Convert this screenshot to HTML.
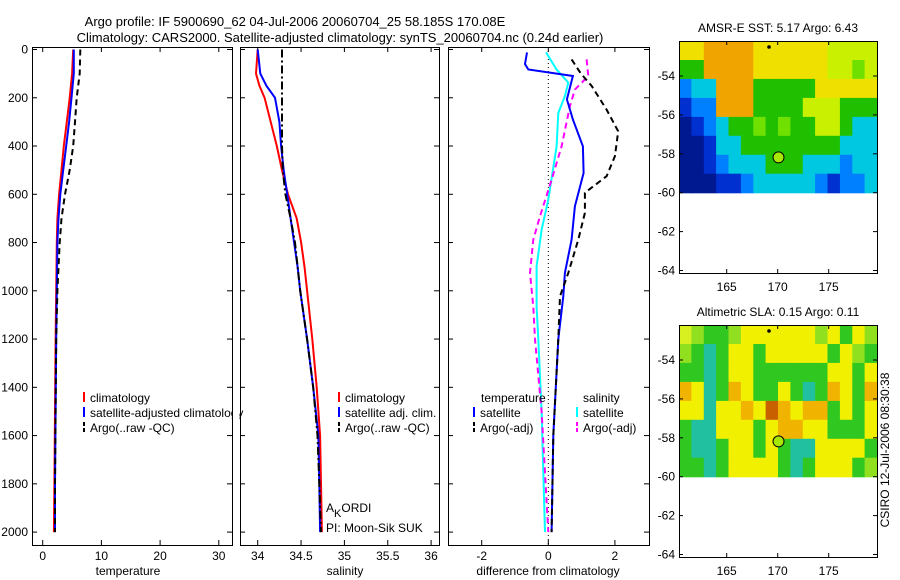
<!DOCTYPE html>
<html><head><meta charset="utf-8"><style>
body{margin:0;background:#fff}
svg{display:block;font-family:"Liberation Sans",sans-serif;font-size:12px}
</style></head><body>
<svg id="fig" width="900" height="580" xmlns="http://www.w3.org/2000/svg">
<text x="295" y="26" text-anchor="middle" font-size="13">Argo profile: IF 5900690_62 04-Jul-2006 20060704_25 58.185S 170.08E</text>
<text x="340" y="42" text-anchor="middle" font-size="13">Climatology: CARS2000. Satellite-adjusted climatology: synTS_20060704.nc (0.24d earlier)</text>
<g id="g"></g>
</svg>
<script>
// ---- data ----
const depthTicks=[0,200,400,600,800,1000,1200,1400,1600,1800,2000];
const tempTicks=[0,10,20,30];
const salTicks=[34,34.5,35,35.5,36];
const salTickLabels=["34","34.5","35","35.5","36"];
const diffTicks=[-2,0,2];
const lonTicks=[165,170,175];
const latTicks=[-54,-56,-58,-60,-62,-64];

const tDepth=[0,100,200,300,400,500,600,700,800,1000,1200,1500,1800,2000];
const tClim=[5.2,5.0,4.6,4.1,3.6,3.2,2.8,2.5,2.4,2.3,2.2,2.1,2.0,1.9];
const tSat=[5.3,5.3,4.9,4.5,4.0,3.5,3.0,2.7,2.5,2.4,2.3,2.2,2.1,2.1];
const tArgo=[6.4,6.3,5.8,5.5,5.2,4.6,3.8,3.2,2.9,2.5,2.3,2.2,2.1,2.1];

const sDepth=[0,100,150,200,300,400,500,600,700,800,900,1000,1200,1400,1600,1800,2000];
const sClim=[34.0,33.98,34.02,34.08,34.15,34.22,34.28,34.35,34.45,34.50,34.54,34.57,34.63,34.68,34.72,34.73,34.74];
const sSat=[34.0,34.03,34.10,34.20,34.25,34.27,34.30,34.34,34.38,34.42,34.46,34.49,34.57,34.64,34.70,34.71,34.72];
const sArgo=[34.28,34.28,34.28,34.28,34.28,34.28,34.29,34.32,34.38,34.43,34.46,34.49,34.57,34.64,34.69,34.71,34.73];

const dDepthT=[12,60,83,110,207,290,401,512,650,788,926,1023,1200,1600,2000];
const dTempSat=[-0.64,-0.7,-0.6,0.74,0.56,0.74,1.04,1.06,0.8,0.7,0.5,0.45,0.3,0.15,0.1];
const dDepthS=[12,83,137,193,263,401,622,747,899,1066,1200,1500,2000];
const dSalSat=[-0.07,0.25,0.6,0.5,0.3,0.25,0,-0.2,-0.35,-0.35,-0.3,-0.2,-0.1];
const dDepthTA=[41,100,151,249,339,442,525,594,677,788,926,1023,1200,1600,2000];
const dTempArgo=[0.7,0.98,1.3,1.75,2.1,2.0,1.75,1.1,1.1,0.9,0.6,0.35,0.3,0.15,0.1];
const dDepthSA=[41,110,166,235,401,540,691,788,926,1066,1200,1500,2000];
const dSalArgo=[1.15,1.2,0.8,0.65,0.4,0.1,-0.25,-0.45,-0.55,-0.45,-0.4,-0.2,0];

const sstGrid=["YYOOOOYYYYYYLLLL","GGOOOOYYYYYYLLgL","BCCOOOGGGGGYYYYY","DBBOOOGGGGLLLGGG","NDBCGGgGgGGLLGCC","NNDCCGGGGGGGGCCC","NNDBCCCGGGCCCBCC","NNNDDBCCCCCBDBBC"];
const slaGrid=["ygGGgYYYYYYgYGYg","gGTGYYGYYYYYGYgG","GGTGYYGGGGGGYYGY","OYTGOYGGYGTGOYGO","YYTYYOYROYOOGYGY","GTTYYYGYOOYYGGGY","GTTGYYGYGTTYYYYG","GGTGYYYYGTGYYYGg"];
const floatLon=[170.08];
const floatLat=[-58.185];
const mapTitles=["AMSR-E SST: 5.17 Argo: 6.43","Altimetric SLA: 0.15 Argo: 0.11"];

// ---- helpers ----
const NS="http://www.w3.org/2000/svg";
const G=document.getElementById('g');
function mk(tag,at,parent){const e=document.createElementNS(NS,tag);for(const k in at)e.setAttribute(k,at[k]);(parent||G).appendChild(e);return e;}
const Y=d=>49.5+d*0.2413;
const PT=[32,232],PS=[240,439],PD=[448,649];
const xT=v=>42.7+v*5.87, xS=v=>257.7+(v-34)*86.7, xD=v=>548.3+v*33.3;
const TOP=47,BOT=545;

function frame(x0,x1,name){
  const r=mk('rect',{x:x0+.5,y:TOP+.5,width:x1-x0,height:BOT-TOP,fill:'none',stroke:'#000'});
  
  depthTicks.forEach(d=>{const y=Y(d);
    mk('line',{x1:x0,x2:x0+5,y1:y,y2:y,stroke:'#000'});mk('line',{x1:x1-5,x2:x1,y1:y,y2:y,stroke:'#000'});});
}
function xticks(vals,labels,fx,name,title,cx){
  vals.forEach((v,i)=>{const x=fx(v);
    mk('line',{x1:x,x2:x,y1:BOT,y2:BOT-5,stroke:'#000'});mk('line',{x1:x,x2:x,y1:TOP,y2:TOP+5,stroke:'#000'});
    const t=mk('text',{x:x,y:560,'text-anchor':'middle'});t.textContent=labels[i];
    });
  const t=mk('text',{x:cx,y:575,'text-anchor':'middle'});t.textContent=title;
  
}
function line(xs,ds,fx,color,dash,name,w){
  const p=xs.map((v,i)=>(i?'L':'M')+fx(v).toFixed(1)+','+Y(ds[i]).toFixed(1)).join('');
  const e=mk('path',{d:p,fill:'none',stroke:color,'stroke-width':w||2,'stroke-dasharray':dash||'none'});
  
}
function legend(x,y,color,dash,label,name){
  mk('line',{x1:x,x2:x,y1:y-10,y2:y,stroke:color,'stroke-width':2,'stroke-dasharray':dash||'none'});
  const t=mk('text',{x:x+6,y:y});t.textContent=label;
  
}

// panel 1
frame(PT[0],PT[1],'temperature-panel');
depthTicks.forEach(d=>{const t=mk('text',{x:28,y:Y(d)+4,'text-anchor':'end'});t.textContent=d;
  });
xticks(tempTicks,tempTicks.map(String),xT,'temperature','temperature',128);
line(tClim,tDepth,xT,'#f00',null,'temperature-climatology-line');
line(tSat,tDepth,xT,'#00f',null,'temperature-satellite-line');
line(tArgo,tDepth,xT,'#000','6,4','temperature-argo-line');
const c1=mk('svg',{x:0,y:0,width:232,height:580});
function leg1(){}
legend(84,402,'#f00',null,'climatology','legend-climatology');
legend(84,417,'#00f',null,'satellite-adjusted climatology','legend-satellite-adjusted');
legend(84,432,'#000','4,2','Argo(..raw -QC)','legend-argo');
// clip cover for legend overflow
mk('rect',{x:232.5,y:405,width:7,height:15,fill:'#fff'});
mk('line',{x1:232.5,x2:232.5,y1:405,y2:420,stroke:'#000'});

// panel 2
frame(PS[0],PS[1],'salinity-panel');
xticks(salTicks,salTickLabels,xS,'salinity','salinity',345);
line(sClim,sDepth,xS,'#f00',null,'salinity-climatology-line');
line(sSat,sDepth,xS,'#00f',null,'salinity-satellite-line');
line(sArgo,sDepth,xS,'#000','8,3,2,3','salinity-argo-line');
legend(339,402,'#f00',null,'climatology','legend-sal-climatology');
legend(339,417,'#00f',null,'satellite adj. clim.','legend-sal-satellite');
legend(339,432,'#000','4,2','Argo(..raw -QC)','legend-sal-argo');
let t=mk('text',{x:326,y:512});t.innerHTML='A<tspan dy="5" font-size="11">K</tspan><tspan dy="-5">ORDI</tspan>';

t=mk('text',{x:326,y:532});t.textContent='PI: Moon-Sik SUK';


// panel 3
frame(PD[0],PD[1],'difference-panel');
xticks(diffTicks,diffTicks.map(String),xD,'difference','difference from climatology',548);
mk('line',{x1:xD(0),x2:xD(0),y1:TOP,y2:BOT,stroke:'#000','stroke-dasharray':'1,3'});
line(dSalSat,dDepthS,xD,'#0ff',null,'salinity-satellite-diff-line');
line(dSalArgo,dDepthSA,xD,'#f0f','6,4','salinity-argo-diff-line');
line(dTempSat,dDepthT,xD,'#00f',null,'temperature-satellite-diff-line');
line(dTempArgo,dDepthTA,xD,'#000','6,4','temperature-argo-diff-line');
t=mk('text',{x:481,y:402});t.textContent='temperature';
t=mk('text',{x:583,y:402});t.textContent='salinity';
legend(474,417,'#00f',null,'satellite','legend-diff-temp-satellite');
legend(474,432,'#000','4,2','Argo(-adj)','legend-diff-temp-argo');
legend(577,417,'#0ff',null,'satellite','legend-diff-sal-satellite');
legend(577,432,'#f0f','4,2','Argo(-adj)','legend-diff-sal-argo');

// maps
const sstCol={Y:'#f0e000',O:'#f0a400',L:'#c8f000',G:'#20c000',g:'#70e000',T:'#00c0a0',C:'#00c8e0',B:'#0080ff',D:'#0030d0',N:'#001890'};
const slaCol={Y:'#f0f000',y:'#d8f020',O:'#f0b400',R:'#c86000',G:'#30c820',T:'#20c0a0',g:'#90e020'};
const mX=v=>777.7+(v-170)*10.2;
function mapPanel(top,grid,cols,title,name){
  const mY=v=>top+(-52.2-v)*19.45;
  const x0=679,x1=877,yb=top+232;
  const cw=(x1-x0)/grid[0].length, ch=(mY(-60)-top)/grid.length;
  grid.forEach((row,r)=>{[...row].forEach((c,i)=>{
    const e=mk('rect',{x:(x0+i*cw).toFixed(1),y:(top+r*ch).toFixed(1),width:(cw+.6).toFixed(1),height:(ch+.6).toFixed(1),fill:cols[c]});
    });});
  const f=mk('rect',{x:x0+.5,y:top+.5,width:x1-x0,height:yb-top,fill:'none',stroke:'#000'});
  
  latTicks.forEach(v=>{const y=mY(v);mk('line',{x1:x0,x2:x0+4,y1:y,y2:y,stroke:'#000'});mk('line',{x1:x1-4,x2:x1,y1:y,y2:y,stroke:'#000'});
    const t=mk('text',{x:675,y:y+4,'text-anchor':'end'});t.textContent=v;});
  lonTicks.forEach(v=>{const x=mX(v);mk('line',{x1:x,x2:x,y1:top,y2:top+4,stroke:'#000'});mk('line',{x1:x,x2:x,y1:yb,y2:yb-4,stroke:'#000'});
    const t=mk('text',{x:x,y:yb+18,'text-anchor':'middle'});t.textContent=v;});
  const tt=mk('text',{x:778,y:top-9,'text-anchor':'middle'});tt.textContent=title;
  const d=mk('circle',{cx:769,cy:top+6,r:1.8,fill:'#000'});
  const c=mk('circle',{cx:mX(floatLon[0]),cy:mY(floatLat[0]),r:5.5,fill:'#a8e800',stroke:'#000'});
  
}
mapPanel(41,sstGrid,sstCol,mapTitles[0],'sst-map');
mapPanel(325,slaGrid,slaCol,mapTitles[1],'sla-map');
t=mk('text',{x:0,y:0,transform:'translate(889,450) rotate(-90)','text-anchor':'middle'});
t.textContent='CSIRO 12-Jul-2006 08:30:38';
</script>
</body></html>
